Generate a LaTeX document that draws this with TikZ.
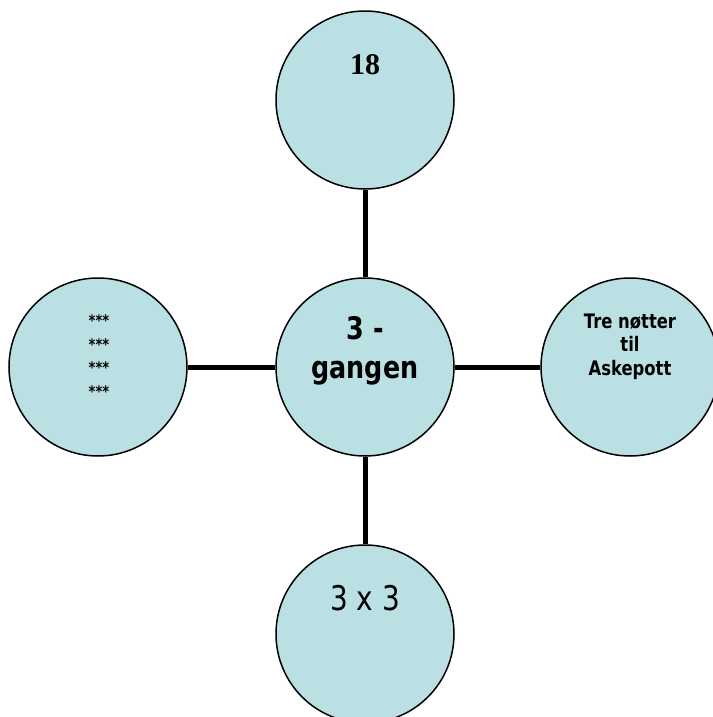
\documentclass[tikz,border=0pt]{standalone}
\usepackage{fontspec}
\setmainfont{Liberation Serif}
\newfontfamily\tahoma[FakeStretch=0.82]{DejaVu Sans}
\usepackage{tikz}
\usetikzlibrary{positioning}
\definecolor{bubble}{RGB}{187,224,227}

\begin{document}
\begin{tikzpicture}[x=1bp,y=-1bp]
        \useasboundingbox (0,0) rectangle (713,717);
        \begin{scope}[every node/.style={fill=bubble,circle,draw,line width=1.5bp,minimum size=178bp,inner sep=0pt}]
            \node (C) at (365,367) {};
            \node (N) at (365,100) {};
            \node (S) at (365,634) {};
            \node (W) at (98,367) {};
            \node (E) at (630,367) {};
        \end{scope}
        \begin{scope}[every edge/.style={draw=black,line width=5bp}]
             \path (C) edge (N);
             \path (C) edge (S);
             \path (C) edge (W);
             \path (C) edge (E);
        \end{scope}
        \begin{scope}[every node/.style={anchor=base,align=center,inner sep=0pt}]
            \node[font=\bfseries\fontsize{30bp}{30bp}\selectfont] (lblN) at (365,75) {18};
            \node[font=\tahoma\bfseries\fontsize{31bp}{39bp}\selectfont] (lblC) at (365,378) {3 -\\gangen};
            \node[font=\tahoma\fontsize{34bp}{34bp}\selectfont] (lblS) at (365,610) {3 x 3};
            \node[font=\tahoma\bfseries\fontsize{20bp}{23.5bp}\selectfont] (lblE) at (630,375) {Tre nøtter\\til\\Askepott};
            \node[font=\tahoma\bfseries\fontsize{16bp}{23.5bp}\selectfont] (lblW) at (99,397) {***\\***\\***\\***};
        \end{scope}
\end{tikzpicture}
\end{document}
